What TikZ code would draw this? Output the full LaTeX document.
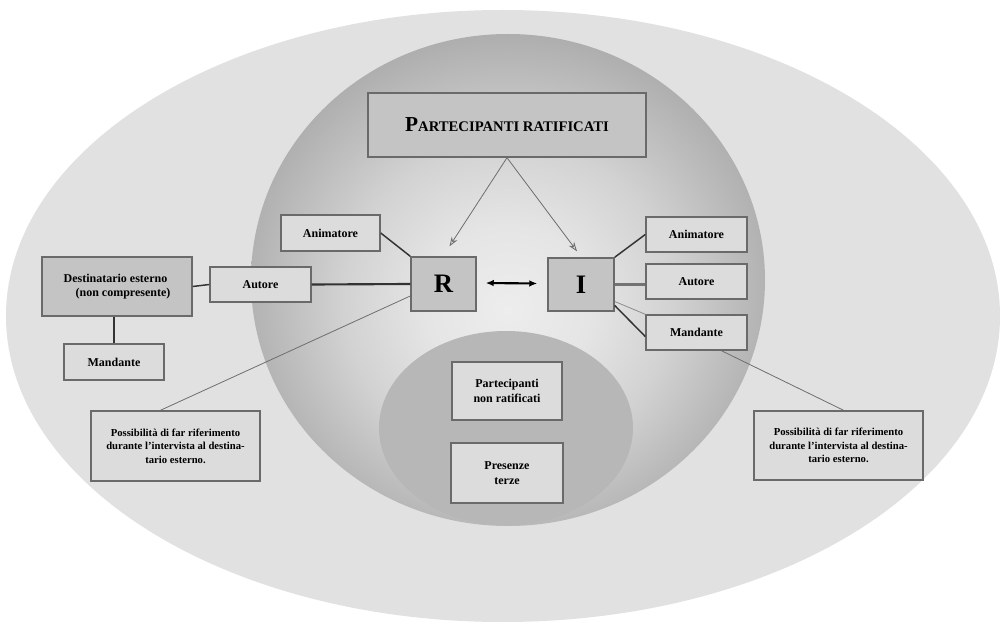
\documentclass[tikz,border=0pt]{standalone}
\usepackage{fontspec}
\setmainfont{Liberation Serif}
\usetikzlibrary{arrows.meta,calc}
\definecolor{outerbg}{HTML}{E1E1E1}
\definecolor{lowbg}{HTML}{B7B7B7}
\definecolor{boxlight}{HTML}{DCDCDC}
\definecolor{boxdark}{HTML}{C4C4C4}
\definecolor{boxline}{HTML}{6A6A6A}
\definecolor{linegray}{HTML}{6E6E6E}
\definecolor{sh0}{HTML}{EDEDED}
\definecolor{sh1}{HTML}{E5E5E5}
\definecolor{sh2}{HTML}{D2D2D2}
\definecolor{sh3}{HTML}{BDBDBD}
\definecolor{sh4}{HTML}{ACACAC}
\pgfdeclareradialshading{innershade}{\pgfpoint{0bp}{-3bp}}{color(0bp)=(sh0); color(8bp)=(sh1); color(16bp)=(sh2); color(22bp)=(sh3); color(27bp)=(sh4); color(50bp)=(sh4)}
\begin{document}
\begin{tikzpicture}[x=0.75pt,y=-0.75pt,
  box/.style={draw=boxline, line width=1.1pt, fill=boxlight, inner sep=0pt, align=center,
    font=\fontsize{9}{11}\selectfont\bfseries},
  darkbox/.style={box, fill=boxdark},
  possbox/.style={box, font=\fontsize{8}{10}\selectfont\bfseries},
  link/.style={draw=black!80, line width=1.1pt},
  thinlink/.style={draw=linegray, line width=0.6pt},
  ptr/.style={draw=linegray, line width=0.6pt, -{Stealth[length=7pt,width=5pt,fill=boxlight]}}]
\useasboundingbox (0,0) rectangle (1001,624);
\fill[white] (0,0) rectangle (1001,624);
% ellipses
\fill[outerbg] (503,316) ellipse [x radius=497, y radius=306];
\shade[shading=innershade] (508,280) ellipse [x radius=257, y radius=246];
\fill[lowbg] (506,428) ellipse [x radius=127, y radius=97];
% nodes
\node[darkbox, minimum width=208.5pt, minimum height=48pt] (PR) at (507,125)
  {{\fontsize{16}{16}\selectfont P}{\fontsize{11}{16}\selectfont ARTECIPANTI RATIFICATI}};
\node[darkbox, minimum width=48.75pt, minimum height=40.5pt, font=\fontsize{20}{20}\selectfont\bfseries] (R) at (443.5,284) {R};
\node[darkbox, minimum width=49.5pt, minimum height=39.75pt, font=\fontsize{20}{20}\selectfont\bfseries] (I) at (581,284.5) {I};
\node[box, minimum width=74.25pt, minimum height=27pt] (AnimL) at (330.5,233) {Animatore};
\node[box, minimum width=75.75pt, minimum height=26.25pt] (AutL) at (260.5,284.5) {Autore};
\node[darkbox, minimum width=112.5pt, minimum height=44.25pt, align=left] (Dest) at (117,286.5) {Destinatario esterno\\\quad(non compresente)};
\node[box, minimum width=75pt, minimum height=27pt] (MandL) at (114,362) {Mandante};
\node[box, minimum width=75.75pt, minimum height=26.25pt] (AnimR) at (696.5,234.5) {Animatore};
\node[box, minimum width=75.75pt, minimum height=26.25pt] (AutR) at (696.5,281.5) {Autore};
\node[box, minimum width=75.75pt, minimum height=26.25pt] (MandR) at (696.5,332.5) {Mandante};
\node[possbox, minimum width=126.75pt, minimum height=52.5pt] (PossL) at (175.5,446)
  {Possibilità di far riferimento\\durante l'intervista al destina-\\tario esterno.};
\node[possbox, minimum width=126.75pt, minimum height=51.75pt] (PossR) at (838.5,445.5)
  {Possibilità di far riferimento\\durante l'intervista al destina-\\tario esterno.};
\node[box, minimum width=82.5pt, minimum height=43.5pt] (PNR) at (507,391) {Partecipanti\\non ratificati};
\node[box, minimum width=84pt, minimum height=45pt] (PT) at (507,473) {Presenze\\terze};
% connectors
\draw[ptr] (PR.south) -- ($(R.north)+(6,-10)$);
\draw[ptr] (PR.south) -- ($(I.north)+(-4,-6)$);
\draw[draw=black, line width=1.6pt, {Latex[length=6pt,width=5pt]}-{Latex[length=6pt,width=5pt]}]
  ($(R.east)+(9,-1)$) -- ($(I.west)+(-10,-1)$);
\draw[link] (AnimL.east) -- (R.north west);
\draw[link, line width=1.6pt] (AutL.east) -- (R.west);
\draw[link] (Dest.east) -- (AutL.west);
\draw[link] (MandL.north) -- (MandL.north |- Dest.south);
\draw[thinlink] ($(R.west)+(0,12)$) -- ($(PossL.north)+(-15,0)$);
\draw[link] (I.north east) -- (AnimR.west);
\draw[draw=black!55, line width=2.4pt] (I.east) -- (AutR.west |- I.east);
\draw[draw=black!45, line width=0.6pt] ($(I.east)+(0,17)$) -- (MandR.north west);
\draw[link] ($(I.east)+(0,21)$) -- ($(MandR.west)+(0,4)$);
\draw[thinlink] ($(MandR.south)+(25,0)$) -- ($(PossR.north)+(5,0)$);
\end{tikzpicture}
\end{document}
